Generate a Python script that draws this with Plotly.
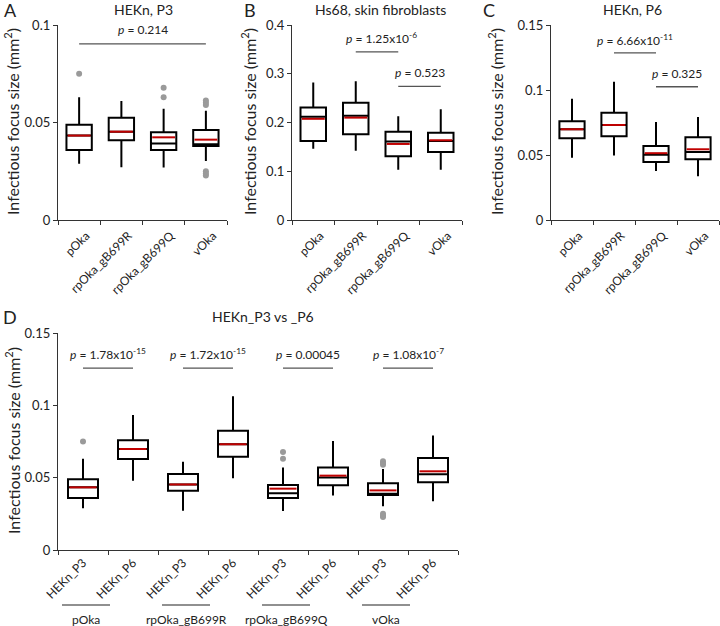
import plotly.graph_objects as go

W, H = 720, 626

strains = ["pOka", "rpOka_gB699R", "rpOka_gB699Q", "vOka"]

# HEKn, P3  (panel A, and P3 boxes of panel D)
p3_low = [0.0288, 0.0271, 0.0269, 0.0302]
p3_q1 = [0.0359, 0.0409, 0.0359, 0.0380]
p3_med = [0.0433, 0.0453, 0.0392, 0.0388]
p3_mean = [0.0433, 0.0453, 0.0424, 0.0412]
p3_q3 = [0.0489, 0.0525, 0.0450, 0.0462]
p3_high = [0.0630, 0.0610, 0.0571, 0.0560]
p3_out = [[0.075], [], [0.0678, 0.063], [0.0613, 0.0601, 0.059, 0.025, 0.0239, 0.0228]]

# Hs68, skin fibroblasts (panel B)
hs_low = [0.146, 0.142, 0.103, 0.103]
hs_q1 = [0.162, 0.176, 0.1306, 0.1395]
hs_med = [0.212, 0.214, 0.161, 0.162]
hs_mean = [0.2076, 0.210, 0.156, 0.1636]
hs_q3 = [0.231, 0.2405, 0.181, 0.179]
hs_high = [0.282, 0.2845, 0.213, 0.227]

# HEKn, P6 (panel C, and P6 boxes of panel D)
p6_low = [0.0478, 0.0496, 0.0376, 0.0337]
p6_q1 = [0.0629, 0.0644, 0.0447, 0.0468]
p6_med = [0.0698, 0.0731, 0.0501, 0.0524]
p6_mean = [0.0698, 0.0731, 0.0514, 0.0544]
p6_q3 = [0.0759, 0.0825, 0.0570, 0.0636]
p6_high = [0.0933, 0.1063, 0.0754, 0.0792]

passages = ["HEKn_P3", "HEKn_P6"]
p_A = ["0.214"]
p_B = ["1.25x10<sup>-6</sup>", "0.523"]
p_C = ["6.66x10<sup>-11</sup>", "0.325"]
p_D = ["1.78x10<sup>-15</sup>", "1.72x10<sup>-15</sup>", "0.00045", "1.08x10<sup>-7</sup>"]

FONT = "Lato"
BOXW = 0.6
MEANRED = "#c00000"
OUTGRAY = "#9a9a9a"
AXC = "#333333"

fig = go.Figure()


def add_boxes(fig, pos, low, q1, med, q3, high, mean, outs, ax):
    xa, ya = "x" + ax, "y" + ax
    fig.add_trace(go.Box(x=pos, q1=q1, median=med, q3=q3, lowerfence=low, upperfence=high,
                         width=BOXW, whiskerwidth=0, fillcolor="white",
                         line=dict(color="black", width=2), boxpoints=False,
                         hoverinfo="skip", xaxis=xa, yaxis=ya, showlegend=False))
    # mean drawn in red over the box
    mx, my = [], []
    for p, m in zip(pos, mean):
        mx += [p - BOXW / 2 + 0.03, p + BOXW / 2 - 0.03, None]
        my += [m, m, None]
    fig.add_trace(go.Scatter(x=mx, y=my, mode="lines", line=dict(color=MEANRED, width=2),
                             hoverinfo="skip", xaxis=xa, yaxis=ya, showlegend=False))
    ox, oy = [], []
    for p, o in zip(pos, outs):
        ox += [p] * len(o)
        oy += o
    if ox:
        fig.add_trace(go.Scatter(x=ox, y=oy, mode="markers",
                                 marker=dict(color=OUTGRAY, size=6),
                                 hoverinfo="skip", xaxis=xa, yaxis=ya, showlegend=False))


def add_pbar(fig, x0, x1, ybar, ytxt, txt, ax, xt=None):
    fig.add_trace(go.Scatter(x=[x0, x1], y=[ybar, ybar], mode="lines",
                             line=dict(color="#555555", width=1.3), hoverinfo="skip",
                             xaxis="x" + ax, yaxis="y" + ax, showlegend=False))
    fig.add_annotation(x=(x0 + x1) / 2 if xt is None else xt, y=ytxt, xref="x" + ax, yref="y" + ax,
                       text="<i>p</i> = " + txt, showarrow=False,
                       xanchor="center", yanchor="middle",
                       font=dict(size=12, color="#222"))


idx = list(range(len(strains)))
no_out = [[] for _ in strains]
p6_out = [[] for _ in strains]

add_boxes(fig, idx, p3_low, p3_q1, p3_med, p3_q3, p3_high, p3_mean, p3_out, "")
add_boxes(fig, idx, hs_low, hs_q1, hs_med, hs_q3, hs_high, hs_mean, no_out, "2")
add_boxes(fig, idx, p6_low, p6_q1, p6_med, p6_q3, p6_high, p6_mean, p6_out, "3")

pos3 = [2 * i for i in idx]
pos6 = [2 * i + 1 for i in idx]
add_boxes(fig, pos3, p3_low, p3_q1, p3_med, p3_q3, p3_high, p3_mean, p3_out, "4")
add_boxes(fig, pos6, p6_low, p6_q1, p6_med, p6_q3, p6_high, p6_mean, p6_out, "4")

add_pbar(fig, 0, 3, 0.0903, 0.0975, p_A[0], "")
add_pbar(fig, 1, 2, 0.345, 0.374, p_B[0], "2", xt=1.6)
add_pbar(fig, 2, 3, 0.274, 0.302, p_B[1], "2")
add_pbar(fig, 1, 2, 0.1285, 0.1385, p_C[0], "3")
add_pbar(fig, 2, 3, 0.1025, 0.113, p_C[1], "3")
for i, t in enumerate(p_D):
    add_pbar(fig, pos3[i], pos6[i], 0.1257, 0.1354, t, "4")


def px_x(a, b):
    return [a / W, b / W]


def px_y(top, bottom):
    return [1 - bottom / H, 1 - top / H]


tickfont = dict(family=FONT, size=12, color="#222")


def xax(domain, labels, anchor, shift=0, standoff=None):
    n = len(labels)
    ax = dict(domain=domain, anchor=anchor, range=[-0.5, n - 0.5], automargin=False,
              tickvals=list(range(n)), ticktext=labels, tickangle=-45, ticks="",
              showline=True, linecolor=AXC, linewidth=1.3, showgrid=False, zeroline=False,
              tickfont=tickfont, fixedrange=True, ticklabelshift=shift,
              minor=dict(tickvals=[k - 0.5 for k in range(n + 1)], ticks="outside",
                         ticklen=4, tickcolor=AXC, tickwidth=1.3, showgrid=False))
    if standoff is not None:
        ax["ticklabelstandoff"] = standoff
    return ax


def yax(domain, vals, texts, top, anchor):
    return dict(domain=domain, anchor=anchor, range=[0, top], tickvals=vals, ticktext=texts,
                ticks="outside", ticklen=4, tickcolor=AXC, tickwidth=1.3, automargin=False,
                showline=True, linecolor=AXC, linewidth=1.3, showgrid=False, zeroline=False,
                tickfont=dict(family=FONT, size=13, color="#222"), fixedrange=True)


yA = px_y(25, 220)
yD = px_y(333, 550)
fig.update_layout(
    width=W, height=H, margin=dict(l=0, r=0, t=0, b=0, pad=0, autoexpand=False),
    paper_bgcolor="white", plot_bgcolor="white",
    font=dict(family=FONT, color="#222"),
    xaxis=xax(px_x(58, 227), strains, "y", shift=7, standoff=3),
    yaxis=yax(yA, [0, 0.05, 0.1], ["0", "0.05", "0.1"], 0.1, "x"),
    xaxis2=xax(px_x(292, 462), strains, "y2", shift=7, standoff=3),
    yaxis2=yax(yA, [0, 0.1, 0.2, 0.3, 0.4], ["0", "0.1", "0.2", "0.3", "0.4"], 0.4, "x2"),
    xaxis3=xax(px_x(551, 719), strains, "y3", shift=7, standoff=3),
    yaxis3=yax(yA, [0, 0.05, 0.1, 0.15], ["0", "0.05", "0.1", "0.15"], 0.15, "x3"),
    xaxis4=xax(px_x(58, 458), passages * len(strains), "y4"),
    yaxis4=yax(yD, [0, 0.05, 0.1, 0.15], ["0", "0.05", "0.1", "0.15"], 0.15, "x4"),
)


def note(text, xc, yc, size, angle=0):
    fig.add_annotation(x=xc / W, y=1 - yc / H, xref="paper", yref="paper", text=text,
                       textangle=angle, showarrow=False, xanchor="center", yanchor="middle",
                       font=dict(size=size, color="#222"))


ytitle = "Infectious focus size (mm<sup>2</sup>)"
for xc, yc in [(12, 122), (249, 122), (496, 122), (12, 441)]:
    note(ytitle, xc, yc, 16, -90)

for t, xc, yc in [("HEKn, P3", 143, 10), ("Hs68, skin fibroblasts", 380, 10),
                  ("HEKn, P6", 632, 10), ("HEKn_P3 vs _P6", 263, 316)]:
    note(t, xc, yc, 14)

for t, xc, yc in [("A", 10, 10), ("B", 250, 10), ("C", 489, 10), ("D", 10, 317)]:
    note(t, xc, yc, 18)

# group labels under panel D
for i, s in enumerate(strains):
    c = pos3[i]
    fig.add_shape(type="line", xref="x4", yref="paper", x0=c - 0.42, x1=c + 0.54,
                  y0=1 - 605 / H, y1=1 - 605 / H, line=dict(color="#222", width=1.2))
    fig.add_annotation(x=c + 0.06, y=1 - 619 / H, xref="x4", yref="paper", text=s,
                       showarrow=False, xanchor="center", yanchor="middle",
                       font=dict(size=12, color="#222"))

# page has a default 8px body margin; drop it so the figure fills the window
fig.write_html("out.html", config={"displayModeBar": False},
               post_script="document.body.style.margin='0px';")
